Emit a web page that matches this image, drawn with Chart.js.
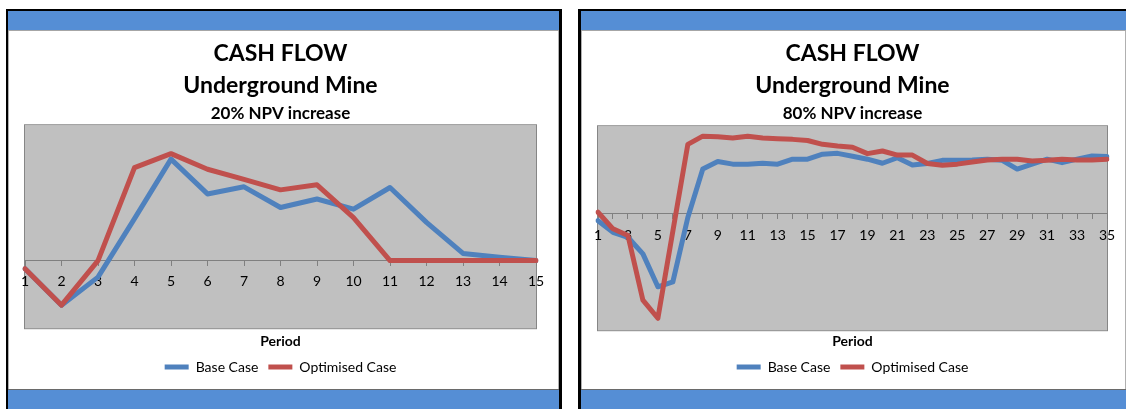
<!DOCTYPE html>
<html>
<head>
<meta charset="utf-8">
<script src="https://cdn.jsdelivr.net/npm/chart.js@4/dist/chart.umd.min.js"></script>
<style>
  html, body { margin: 0; padding: 0; background: #fff; overflow: hidden; }
  body { width: 1126px; height: 409px; position: relative; }
  .panel { position: absolute; top: 9px; height: 398px; border-top: 2px solid #000; border-left: 2px solid #000; }
  #panel1 { left: 6px; width: 551px; border-right: 3px solid #000; }
  #panel2 { left: 578px; width: 545px; border-left-width: 3px; }
  .bar-top { height: 19px; background: #558ed5; border-bottom: 1px solid #a6a6a6; }
  .chart-body { height: 358px; background: #fff; border-left: 1px solid #b0b0b0; border-right: 1px solid #b0b0b0; }
  .bar-bottom { height: 19px; background: #558ed5; border-top: 1px solid #6a6a6a; }
  canvas { display: block; }
</style>
</head>
<body>

<div class="panel" id="panel1">
  <div class="bar-top"></div>
  <div class="chart-body"><canvas id="chart20" width="549" height="358"></canvas></div>
  <div class="bar-bottom"></div>
</div>

<div class="panel" id="panel2">
  <div class="bar-top"></div>
  <div class="chart-body"><canvas id="chart80" width="544" height="358"></canvas></div>
  <div class="bar-bottom"></div>
</div>

<script>
// Data - 20% NPV increase
var periods20 = ['1','2','3','4','5','6','7','8','9','10','11','12','13','14','15'];
var base20 = [-2.4, -13.2, -4.9, 12.4, 30, 19.7, 21.8, 15.7, 18.2, 15.2, 21.6, 11.3, 2.1, 1.0, 0];
var opt20  = [-2.4, -13.2, 0, 27.5, 31.6, 27, 24, 20.9, 22.4, 12.7, 0, 0, 0, 0, 0];

// Data - 80% NPV increase
var periods80 = ['1','2','3','4','5','6','7','8','9','10','11','12','13','14','15','16','17','18',
  '19','20','21','22','23','24','25','26','27','28','29','30','31','32','33','34','35'];
var base80 = [-2.4, -6.4, -8.1, -13.8, -25.1, -23.4, -1.3, 15.3, 17.9, 17, 17, 17.3, 17, 18.7, 18.7,
  20.4, 20.7, 19.7, 18.7, 17.3, 19.2, 16.7, 17.2, 18.3, 18.3, 18.4, 18.7, 18.3, 15.3, 17, 18.7, 17.5,
  18.7, 19.8, 19.6];
var opt80 = [0.5, -5.2, -7.5, -29.7, -35.9, -6, 23.8, 26.6, 26.4, 26, 26.6, 26, 25.7, 25.5, 25.1,
  23.8, 23.2, 22.8, 20.6, 21.5, 20.1, 20.1, 17.2, 16.6, 17, 17.7, 18.4, 18.7, 18.7, 18.1, 18.3, 18.7,
  18.4, 18.4, 18.7];

var titleLines = ['CASH FLOW', 'Underground Mine'];
var seriesNames = ['Base Case', 'Optimised Case'];

Chart.defaults.font.family = 'Lato, "Open Sans", sans-serif';
Chart.defaults.color = '#000';

// grey plot area like excel
var plotArea = {
  id: 'plotArea',
  beforeDraw: function (chart) {
    var a = chart.chartArea, ctx = chart.ctx;
    ctx.save();
    ctx.fillStyle = '#c0c0c0';
    ctx.fillRect(a.left, a.top, a.right - a.left, a.bottom - a.top);
    ctx.strokeStyle = '#868686';
    ctx.lineWidth = 1;
    ctx.strokeRect(a.left - 0.5, a.top - 0.5, a.right - a.left + 1, a.bottom - a.top + 1);
    ctx.restore();
  }
};

function makeChart(id, labels, base, opt, yMin, yMax, subtitle, pad, every) {
  var line = function (name, data, color, order) {
    return {
      label: name,
      data: data,
      borderColor: color,
      backgroundColor: color,
      borderWidth: 5,
      borderCapStyle: 'round',
      borderJoinStyle: 'round',
      pointRadius: 0,
      tension: 0,
      order: order
    };
  };
  return new Chart(document.getElementById(id), {
    type: 'line',
    data: {
      labels: labels,
      datasets: [
        line(seriesNames[0], base, '#4f81bd', 2),
        line(seriesNames[1], opt, '#c0504d', 1)
      ]
    },
    options: {
      responsive: false,
      animation: false,
      devicePixelRatio: 1,
      layout: { padding: pad },
      plugins: {
        title: {
          display: true,
          text: titleLines,
          font: { size: 23, weight: 'bold', lineHeight: 1.41 },
          padding: { top: 6, bottom: 1 }
        },
        subtitle: {
          display: true,
          text: subtitle,
          color: '#000',
          font: { size: 17, weight: 'bold', lineHeight: 1.2 },
          padding: { top: 0, bottom: pad.sub }
        },
        legend: {
          position: 'bottom',
          labels: {
            usePointStyle: true,
            pointStyle: 'line',
            pointStyleWidth: 24,
            padding: 10,
            font: { size: 14 },
            sort: function (a, b) { return a.datasetIndex - b.datasetIndex; }
          }
        },
        tooltip: { enabled: false }
      },
      scales: {
        y: { display: false, min: yMin, max: yMax },
        x: {
          position: { y: 0 },
          offset: false,
          grid: { drawOnChartArea: false, drawTicks: true, tickLength: 5, color: '#808080' },
          border: { color: '#808080', width: 1 },
          ticks: {
            autoSkip: false,
            maxRotation: 0,
            padding: 8,
            font: { size: 14 },
            callback: function (v, i) { return i % every === 0 ? this.getLabelForValue(v) : ''; }
          }
        },
        x2: {
          type: 'category',
          labels: labels,
          position: 'bottom',
          grid: { display: false, drawTicks: false },
          border: { display: false },
          ticks: { display: false },
          title: { display: true, text: 'Period', font: { size: 14, weight: 'bold' }, padding: { top: pad.pt, bottom: pad.pb } }
        }
      }
    },
    plugins: [plotArea]
  });
}

// Left chart
makeChart('chart20', periods20, base20, opt20, -20, 40, '20% NPV increase',
  { left: 16, right: 22, top: 0, bottom: 5, sub: 2, pt: 5, pb: 0 }, 1);

// Right chart
makeChart('chart80', periods80, base80, opt80, -40, 30, '80% NPV increase',
  { left: 16, right: 19, top: 0, bottom: 5, sub: 3, pt: 3, pb: 0 }, 2);
</script>
</body>
</html>
